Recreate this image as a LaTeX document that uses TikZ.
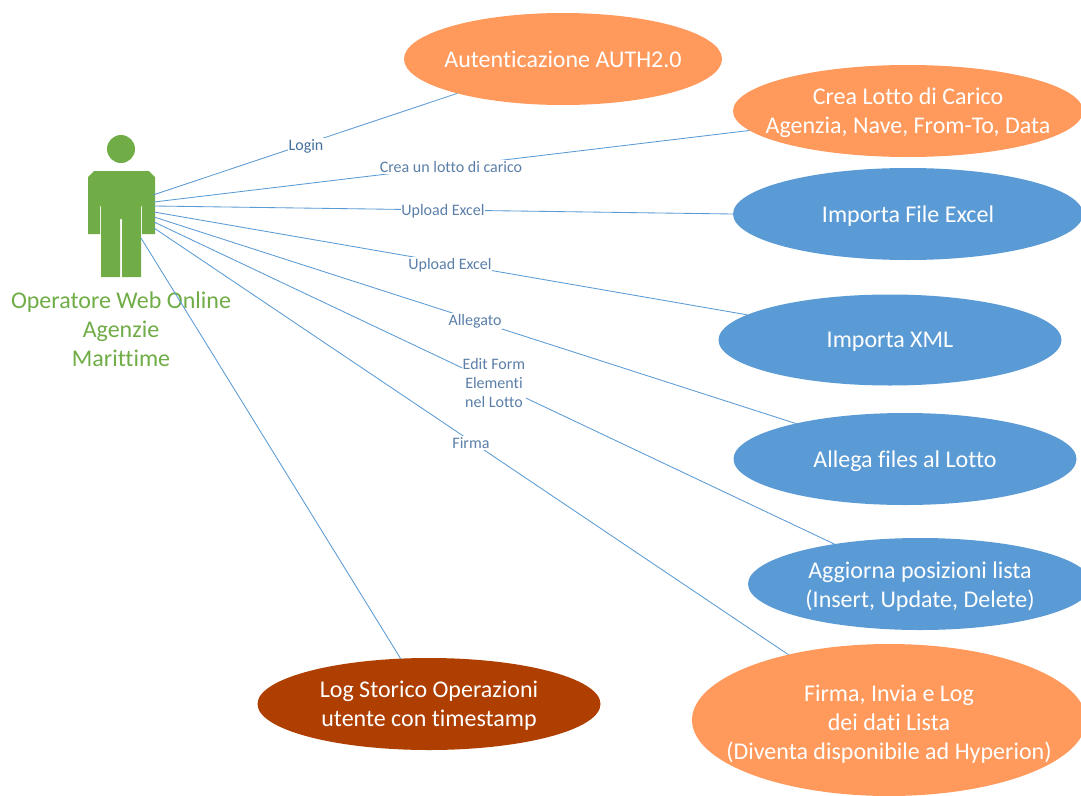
\documentclass[tikz,border=0pt]{standalone}
\usepackage{fontspec}
\setmainfont[Ligatures=NoCommon]{Carlito}
\usetikzlibrary{shapes.geometric}
\definecolor{linkblue}{HTML}{5B9BD5}
\definecolor{labelblue}{HTML}{5B7FA8}
\definecolor{logindark}{HTML}{44709D}
\definecolor{actorgreen}{HTML}{70AD47}
\definecolor{softorange}{HTML}{FF9A5C}
\definecolor{softblue}{HTML}{5B9BD5}
\definecolor{rust}{HTML}{AE3F00}
\tikzset{
  x=1pt,y=-1pt,
  usecase/.style={ellipse,inner sep=0pt,outer sep=0pt},
  casetext/.style={text=white,align=center,inner sep=0pt,font=\fontsize{24}{29}\selectfont,yshift=-2pt},
  orangecase/.style={usecase,fill=softorange},
  bluecase/.style={usecase,fill=softblue},
  rustcase/.style={usecase,fill=rust},
  link/.style={draw=linkblue,line width=0.85pt},
  linklabel/.style={fill=white,text=labelblue,inner xsep=0.5pt,inner ysep=1pt,align=center,font=\fontsize{16}{19}\selectfont},
}
\begin{document}
\begin{tikzpicture}
\path[use as bounding box,clip] (0,0) rectangle (1081,795);
\fill[white] (0,0) rectangle (1081,795);
% actor
\fill[actorgreen] (121,149) circle (14);
\fill[actorgreen] (94,171)--(149,171)--(155,177)--(155,234)--(142,234)--(142,206)--(141,206)--(141,277)--(122,277)--(122,219)--(120,219)--(120,277)--(101,277)--(101,206)--(100,206)--(100,234)--(88,234)--(88,177)--cycle;
\node[text=actorgreen,align=center,font=\fontsize{24}{29}\selectfont,inner sep=0pt] (actorlabel) at (121,329) {Operatore Web Online\\Agenzie\\Marittime};
\coordinate (a1) at (153,195);
\coordinate (a2) at (154,202);
\coordinate (a3) at (154,206);
\coordinate (a4) at (154,212);
\coordinate (a5) at (154,217);
\coordinate (a6) at (154,222);
\coordinate (a7) at (154,228);
\coordinate (a8) at (141,238);
% use cases
\node[orangecase,minimum width=318pt,minimum height=92pt,label={[casetext,yshift=2pt]center:Autenticazione AUTH2.0}] (auth) at (563,59) {};
\node[orangecase,minimum width=350pt,minimum height=92pt,label={[casetext]center:{Crea Lotto di Carico\\Agenzia, Nave, From-To, Data}}] (crea) at (908,111) {};
\node[bluecase,minimum width=350pt,minimum height=92pt,label={[casetext]center:Importa File Excel}] (excel) at (908,214) {};
\node[bluecase,minimum width=343pt,minimum height=91pt,label={[casetext]center:Importa XML}] (xml) at (890,340) {};
\node[bluecase,minimum width=343pt,minimum height=92pt,label={[casetext]center:Allega files al Lotto}] (allega) at (905,459) {};
\node[bluecase,minimum width=344pt,minimum height=92pt,label={[casetext,yshift=-1pt]center:{Aggiorna posizioni lista\\(Insert, Update, Delete)}}] (aggiorna) at (920,584) {};
\node[orangecase,minimum width=394pt,minimum height=152pt,label={[casetext,yshift=-2pt]center:{Firma, Invia e Log\\dei dati Lista\\(Diventa disponibile ad Hyperion)}}] (firma) at (889,720) {};
\node[rustcase,minimum width=343pt,minimum height=92pt,label={[casetext]center:{Log Storico Operazioni\\utente con timestamp}}] (log) at (429,704) {};
% connectors
\draw[link] (a1) -- (auth.198);
\draw[link] (a2) -- (crea.187);
\draw[link] (a3) -- (excel.180);
\draw[link] (a4) -- (xml.170);
\draw[link] (a5) -- (allega.162);
\draw[link] (a6) -- (aggiorna.155);
\draw[link] (a7) -- (firma.147);
\draw[link] (a8) -- (log.122);
% labels
\node[linklabel,text=logindark] (l1) at (306,146) {Login};
\node[linklabel] (l2) at (451,167) {Crea un lotto di carico};
\node[linklabel] (l3) at (443,211) {Upload Excel};
\node[linklabel] (l4) at (450,265) {Upload Excel};
\node[linklabel] (l5) at (475,321) {Allegato};
\node[linklabel] (l6) at (494,383) {Edit Form\\Elementi\\nel Lotto};
\node[linklabel] (l7) at (471,443) {Firma};
\end{tikzpicture}
\end{document}
